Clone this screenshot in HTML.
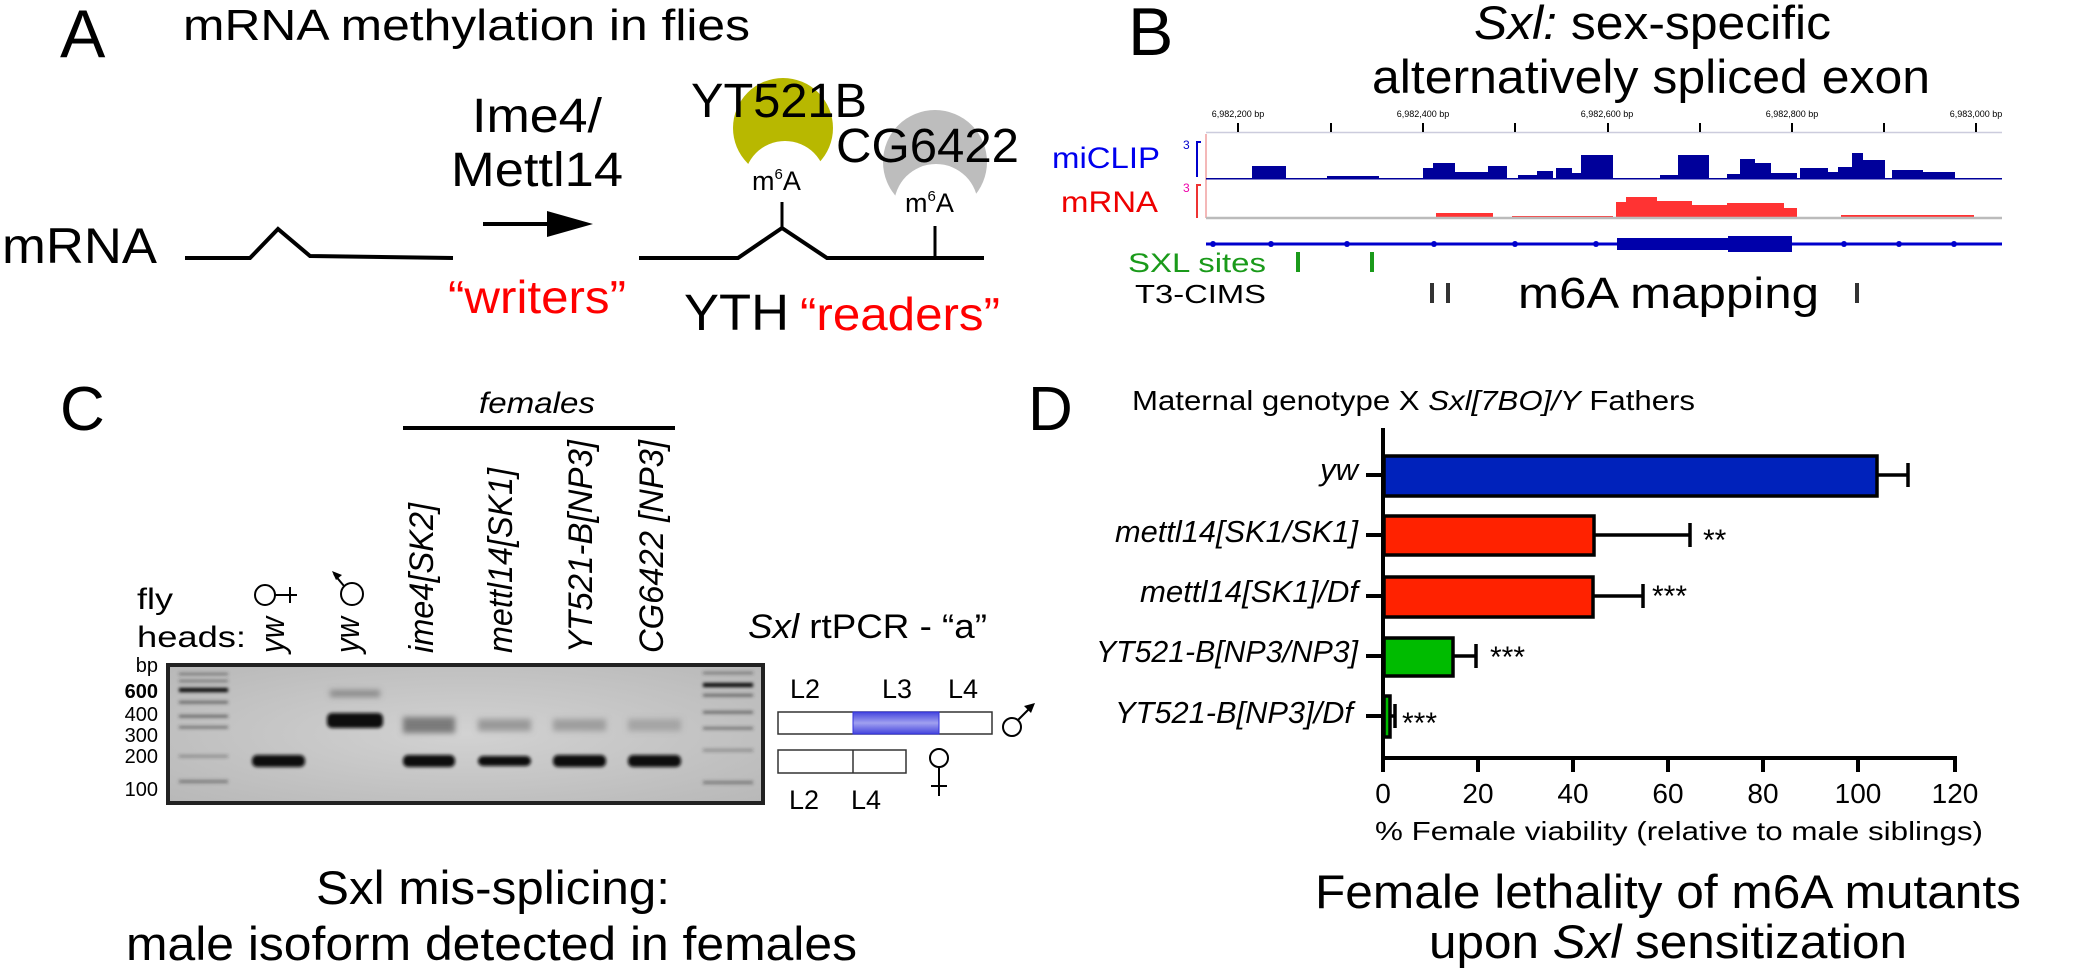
<!DOCTYPE html>
<html><head><meta charset="utf-8"><style>
html,body{margin:0;padding:0;background:#fff}
svg{display:block}
text{font-family:"Liberation Sans",Arial,sans-serif}
</style></head><body>
<svg width="2093" height="978" viewBox="0 0 2093 978" xmlns="http://www.w3.org/2000/svg">
<defs>
<filter id="bl" x="-20%" y="-50%" width="140%" height="200%"><feGaussianBlur stdDeviation="1.6"/></filter>
<filter id="bl2" x="-20%" y="-80%" width="140%" height="260%"><feGaussianBlur stdDeviation="3"/></filter>
<linearGradient id="bg" x1="0" y1="0" x2="0" y2="1"><stop offset="0" stop-color="#4444dd"/><stop offset="0.5" stop-color="#a0a0f0"/><stop offset="1" stop-color="#4444dd"/></linearGradient>
<radialGradient id="gel" cx="0.5" cy="0.5" r="0.7"><stop offset="0" stop-color="#d2d2d2"/><stop offset="1" stop-color="#b8b8b8"/></radialGradient>
</defs>

<!-- Panel A -->
<text x="60" y="57" font-size="68">A</text>
<text x="183" y="40" font-size="44" textLength="567" lengthAdjust="spacingAndGlyphs">mRNA methylation in flies</text>
<text x="2" y="263" font-size="50" textLength="155" lengthAdjust="spacingAndGlyphs">mRNA</text>
<polyline points="185,258 250,258 278,229 310,256 453,258" fill="none" stroke="#000" stroke-width="4"/>
<text x="472" y="132" font-size="48" textLength="130" lengthAdjust="spacingAndGlyphs">Ime4/</text>
<text x="451" y="186" font-size="48" textLength="172" lengthAdjust="spacingAndGlyphs">Mettl14</text>
<line x1="483" y1="224" x2="550" y2="224" stroke="#000" stroke-width="4"/>
<polygon points="547,211 593,224 547,237" fill="#000"/>
<text x="448" y="313" font-size="46" fill="#ff0000" textLength="178" lengthAdjust="spacingAndGlyphs">“writers”</text>
<circle cx="783" cy="128" r="50" fill="#b8b800"/>
<circle cx="785" cy="182" r="41" fill="#fff"/>
<circle cx="935" cy="162" r="52" fill="#bdbdbd"/>
<circle cx="936" cy="206" r="42" fill="#fff"/>
<text x="691" y="117" font-size="48" textLength="176" lengthAdjust="spacingAndGlyphs">YT521B</text>
<text x="836" y="162" font-size="48" textLength="183" lengthAdjust="spacingAndGlyphs">CG6422</text>
<text x="752" y="190" font-size="27">m<tspan font-size="15" dy="-11">6</tspan><tspan dy="11">A</tspan></text>
<text x="905" y="212" font-size="27">m<tspan font-size="15" dy="-11">6</tspan><tspan dy="11">A</tspan></text>
<polyline points="639,258 738,258 782,228 827,258 984,258" fill="none" stroke="#000" stroke-width="4"/>
<line x1="782" y1="228" x2="782" y2="202" stroke="#000" stroke-width="3"/>
<line x1="935" y1="258" x2="935" y2="226" stroke="#000" stroke-width="3"/>
<text x="684" y="330" font-size="51" textLength="105" lengthAdjust="spacingAndGlyphs">YTH</text>
<text x="800" y="330" font-size="46" fill="#ff0000" textLength="200" lengthAdjust="spacingAndGlyphs">“readers”</text>

<!-- Panel B -->
<text x="1128" y="55" font-size="68">B</text>
<text x="1474" y="39" font-size="47" textLength="357" lengthAdjust="spacingAndGlyphs"><tspan font-style="italic">Sxl:</tspan> sex-specific</text>
<text x="1372" y="93" font-size="47" textLength="558" lengthAdjust="spacingAndGlyphs">alternatively spliced exon</text>
<g font-size="9" text-anchor="middle">
<text x="1238" y="117">6,982,200 bp</text><text x="1423" y="117">6,982,400 bp</text><text x="1607" y="117">6,982,600 bp</text><text x="1792" y="117">6,982,800 bp</text><text x="1976" y="117">6,983,000 bp</text>
</g>
<line x1="1206" y1="132.5" x2="2002" y2="132.5" stroke="#ccccdd" stroke-width="1.5"/>
<g stroke="#000" stroke-width="2">
<line x1="1238" y1="123" x2="1238" y2="132"/><line x1="1331" y1="123" x2="1331" y2="132"/><line x1="1423" y1="123" x2="1423" y2="132"/><line x1="1515" y1="123" x2="1515" y2="132"/><line x1="1608" y1="123" x2="1608" y2="132"/><line x1="1700" y1="123" x2="1700" y2="132"/><line x1="1792" y1="123" x2="1792" y2="132"/><line x1="1884" y1="123" x2="1884" y2="132"/><line x1="1976" y1="123" x2="1976" y2="132"/>
</g>
<line x1="1206" y1="134" x2="1206" y2="218" stroke="#f0a0a0" stroke-width="1.5"/>
<text x="1052" y="168" font-size="30" fill="#0000ee" textLength="108" lengthAdjust="spacingAndGlyphs">miCLIP</text>
<text x="1061" y="212" font-size="30" fill="#ee0000" textLength="97" lengthAdjust="spacingAndGlyphs">mRNA</text>
<text x="1183" y="149" font-size="12" fill="#0000cc">3</text>
<path d="M1201,142 L1197,142 L1197,177" fill="none" stroke="#0000cc" stroke-width="2"/>
<text x="1183" y="192" font-size="12" fill="#ee00aa">3</text>
<path d="M1201,185 L1197,185 L1197,218" fill="none" stroke="#ee3333" stroke-width="2"/>
<path fill="#00009a" d="M1206,178 L1252,178 L1252,166 L1286,166 L1286,178 L1327,178 L1327,176 L1379,176 L1379,178 L1423,178 L1423,168 L1433,168 L1433,163 L1455,163 L1455,172 L1488,172 L1488,166 L1507,166 L1507,178 L1518,178 L1518,175 L1537,175 L1537,171 L1553,171 L1553,178 L1556,178 L1556,168 L1572,168 L1572,173 L1581,173 L1581,155 L1613,155 L1613,178 L1660,178 L1660,175 L1678,175 L1678,155 L1709,155 L1709,178 L1727,178 L1727,174 L1740,174 L1740,159 L1755,159 L1755,163 L1771,163 L1771,173 L1797,173 L1797,178 L1800,178 L1800,168 L1828,168 L1828,172 L1838,172 L1838,167 L1852,167 L1852,153 L1863,153 L1863,160 L1885,160 L1885,178 L1892,178 L1892,170 L1923,170 L1923,172 L1955,172 L1955,178 L2002,178 L2002,179.5 L1206,179.5 Z"/>
<path fill="#ff3333" d="M1206,217 L1436,217 L1436,213 L1493,213 L1493,217 L1512,217 L1512,216 L1613,216 L1613,217 L1616,217 L1616,202 L1626,202 L1626,197 L1657,197 L1657,201 L1692,201 L1692,205 L1727,205 L1727,203 L1784,203 L1784,208 L1797,208 L1797,217 L1841,217 L1841,215 L1974,215 L1974,217 Z"/>
<line x1="1206" y1="218" x2="2002" y2="218" stroke="#bbbbbb" stroke-width="2.5"/>
<line x1="1206" y1="244" x2="2002" y2="244" stroke="#0000cc" stroke-width="3"/>
<rect x="1617" y="238" width="175" height="12" fill="#0000aa"/>
<rect x="1728" y="236" width="64" height="16" fill="#0000aa"/>
<g fill="#0000cc"><circle cx="1213" cy="244" r="3"/><circle cx="1271" cy="244" r="3"/><circle cx="1347" cy="244" r="3"/><circle cx="1434" cy="244" r="3"/><circle cx="1515" cy="244" r="3"/><circle cx="1596" cy="244" r="3"/><circle cx="1844" cy="244" r="3"/><circle cx="1899" cy="244" r="3"/><circle cx="1954" cy="244" r="3"/></g>
<text x="1128" y="272" font-size="27" fill="#1a9a1a" textLength="138" lengthAdjust="spacingAndGlyphs">SXL sites</text>
<rect x="1296" y="252" width="4" height="20" fill="#1a9a1a"/>
<rect x="1370" y="252" width="4" height="20" fill="#1a9a1a"/>
<text x="1135" y="303" font-size="26" textLength="131" lengthAdjust="spacingAndGlyphs">T3-CIMS</text>
<rect x="1430" y="283" width="4" height="20" fill="#333"/>
<rect x="1446" y="283" width="4" height="20" fill="#333"/>
<rect x="1855" y="283" width="4" height="20" fill="#333"/>
<text x="1518" y="308" font-size="44" textLength="301" lengthAdjust="spacingAndGlyphs">m6A mapping</text>

<!-- Panel C -->
<text x="60" y="430" font-size="62">C</text>
<text x="479" y="413" font-size="30" font-style="italic" textLength="116" lengthAdjust="spacingAndGlyphs">females</text>
<line x1="403" y1="428" x2="675" y2="428" stroke="#000" stroke-width="4"/>
<text x="137" y="609" font-size="30" textLength="36" lengthAdjust="spacingAndGlyphs">fly</text>
<text x="137" y="647" font-size="30" textLength="109" lengthAdjust="spacingAndGlyphs">heads:</text>
<g font-size="34" font-style="italic">
<text transform="translate(284,653) rotate(-90)" textLength="36" lengthAdjust="spacingAndGlyphs">yw</text>
<text transform="translate(359,653) rotate(-90)" textLength="36" lengthAdjust="spacingAndGlyphs">yw</text>
<text transform="translate(433,653) rotate(-90)" textLength="150" lengthAdjust="spacingAndGlyphs">ime4[SK2]</text>
<text transform="translate(512,653) rotate(-90)" textLength="185" lengthAdjust="spacingAndGlyphs">mettl14[SK1]</text>
<text transform="translate(592,653) rotate(-90)" textLength="213" lengthAdjust="spacingAndGlyphs">YT521-B[NP3]</text>
<text transform="translate(663,653) rotate(-90)" textLength="213" lengthAdjust="spacingAndGlyphs">CG6422 [NP3]</text>
</g>
<!-- rotated gender symbols -->
<g fill="none" stroke="#000" stroke-width="2">
<circle cx="265" cy="595" r="10"/><line x1="275" y1="595" x2="297" y2="595"/><line x1="290" y1="587" x2="290" y2="603"/>
<circle cx="352" cy="594" r="11"/><line x1="344" y1="586" x2="334" y2="574"/>
</g>
<polygon points="332,571 342,575 336,580" fill="#000"/>
<g font-size="20" text-anchor="end">
<text x="158" y="672">bp</text><text x="158" y="698" font-weight="bold">600</text><text x="158" y="721">400</text><text x="158" y="742">300</text><text x="158" y="763">200</text><text x="158" y="796">100</text>
</g>
<rect x="168" y="665" width="595" height="138" fill="url(#gel)" stroke="#222" stroke-width="4"/>
<g filter="url(#bl)" fill="#333">
<rect x="179" y="673" width="49" height="2" opacity="0.6"/><rect x="179" y="680" width="49" height="2" opacity="0.6"/><rect x="179" y="688" width="49" height="4" fill="#000"/><rect x="179" y="701" width="49" height="2.5" opacity="0.7"/><rect x="179" y="715" width="49" height="2.5" opacity="0.7"/><rect x="179" y="726" width="49" height="2.5" opacity="0.6"/><rect x="179" y="755" width="49" height="2.5" opacity="0.4"/><rect x="179" y="780" width="49" height="3" opacity="0.5"/>
<rect x="703" y="672" width="50" height="2" opacity="0.6"/><rect x="703" y="683" width="50" height="4" fill="#000"/><rect x="703" y="694" width="50" height="2.5" opacity="0.7"/><rect x="703" y="711" width="50" height="2.5" opacity="0.7"/><rect x="703" y="727" width="50" height="2.5" opacity="0.6"/><rect x="703" y="749" width="50" height="2.5" opacity="0.4"/><rect x="703" y="781" width="50" height="3" opacity="0.5"/>
</g>
<g filter="url(#bl)" fill="#080808">
<rect x="252" y="755" width="53" height="12" rx="5"/>
<rect x="327" y="713" width="56" height="15" rx="5"/>
<rect x="403" y="755" width="52" height="12" rx="5"/>
<rect x="478" y="756" width="53" height="10" rx="5"/>
<rect x="553" y="755" width="53" height="12" rx="5"/>
<rect x="628" y="755" width="53" height="12" rx="5"/>
</g>
<g filter="url(#bl2)">
<rect x="403" y="717" width="52" height="16" fill="#7a7a7a"/>
<rect x="478" y="719" width="53" height="12" fill="#999"/>
<rect x="553" y="719" width="53" height="12" fill="#9e9e9e"/>
<rect x="628" y="719" width="53" height="12" fill="#a4a4a4"/>
<rect x="330" y="690" width="50" height="7" fill="#8a8a8a"/>
</g>
<text x="748" y="638" font-size="34" textLength="239" lengthAdjust="spacingAndGlyphs"><tspan font-style="italic">Sxl</tspan> rtPCR - “a”</text>
<g font-size="27">
<text x="790" y="698">L2</text><text x="882" y="698">L3</text><text x="948" y="698">L4</text>
<text x="789" y="809">L2</text><text x="851" y="809">L4</text>
</g>
<rect x="778" y="712" width="214" height="22" fill="#fff" stroke="#333" stroke-width="1.5"/>
<rect x="853" y="712" width="86" height="22" fill="url(#bg)" stroke="#3333dd" stroke-width="1"/>
<rect x="778" y="750" width="128" height="23" fill="#fff" stroke="#333" stroke-width="1.5"/>
<line x1="853" y1="750" x2="853" y2="773" stroke="#333" stroke-width="1.5"/>
<g fill="none" stroke="#000" stroke-width="2">
<circle cx="1012" cy="727" r="9"/><line x1="1018" y1="720" x2="1032" y2="706"/>
<circle cx="939" cy="758" r="9"/><line x1="939" y1="767" x2="939" y2="796"/><line x1="931" y1="786" x2="947" y2="786"/>
</g>
<polygon points="1035,703 1024,706 1031,713" fill="#000"/>
<text x="316" y="904" font-size="47" textLength="354" lengthAdjust="spacingAndGlyphs">Sxl mis-splicing:</text>
<text x="126" y="960" font-size="47" textLength="731" lengthAdjust="spacingAndGlyphs">male isoform detected in females</text>

<!-- Panel D -->
<text x="1028" y="430" font-size="62">D</text>
<text x="1132" y="410" font-size="28" textLength="563" lengthAdjust="spacingAndGlyphs">Maternal genotype X <tspan font-style="italic">Sxl[7BO]/Y</tspan> Fathers</text>
<g stroke="#000" stroke-width="4">
<line x1="1383" y1="428" x2="1383" y2="760"/>
<line x1="1381" y1="758" x2="1957" y2="758"/>
<line x1="1383" y1="758" x2="1383" y2="772"/><line x1="1478" y1="758" x2="1478" y2="772"/><line x1="1573" y1="758" x2="1573" y2="772"/><line x1="1668" y1="758" x2="1668" y2="772"/><line x1="1763" y1="758" x2="1763" y2="772"/><line x1="1858" y1="758" x2="1858" y2="772"/><line x1="1955" y1="758" x2="1955" y2="772"/>
<line x1="1366" y1="475" x2="1383" y2="475"/><line x1="1366" y1="535" x2="1383" y2="535"/><line x1="1366" y1="596" x2="1383" y2="596"/><line x1="1366" y1="656" x2="1383" y2="656"/><line x1="1366" y1="716" x2="1383" y2="716"/>
</g>
<g stroke="#000" stroke-width="3.5">
<rect x="1384" y="456" width="493" height="40" fill="#0022bb"/>
<rect x="1384" y="516" width="210" height="39" fill="#ff2200"/>
<rect x="1384" y="577" width="209" height="40" fill="#ff2200"/>
<rect x="1384" y="638" width="69" height="38" fill="#00bb00"/>
<rect x="1384" y="696" width="6" height="41" fill="#00bb00"/>
<line x1="1877" y1="475" x2="1908" y2="475"/><line x1="1908" y1="463" x2="1908" y2="487"/>
<line x1="1594" y1="535" x2="1690" y2="535"/><line x1="1690" y1="523" x2="1690" y2="547"/>
<line x1="1593" y1="596" x2="1643" y2="596"/><line x1="1643" y1="584" x2="1643" y2="608"/>
<line x1="1453" y1="656" x2="1476" y2="656"/><line x1="1476" y1="644" x2="1476" y2="668"/>
<line x1="1390" y1="716" x2="1395" y2="716"/><line x1="1395" y1="704" x2="1395" y2="728"/>
</g>
<g font-size="30">
<text x="1703" y="550">**</text>
<text x="1652" y="606">***</text>
<text x="1490" y="667">***</text>
<text x="1402" y="733">***</text>
</g>
<g font-size="31" font-style="italic" text-anchor="end">
<text x="1358" y="480">yw</text>
<text x="1358" y="542" textLength="243" lengthAdjust="spacingAndGlyphs">mettl14[SK1/SK1]</text>
<text x="1358" y="602" textLength="218" lengthAdjust="spacingAndGlyphs">mettl14[SK1]/Df</text>
<text x="1358" y="662" textLength="262" lengthAdjust="spacingAndGlyphs">YT521-B[NP3/NP3]</text>
<text x="1353" y="723" textLength="238" lengthAdjust="spacingAndGlyphs">YT521-B[NP3]/Df</text>
</g>
<g font-size="28" text-anchor="middle">
<text x="1383" y="803">0</text><text x="1478" y="803">20</text><text x="1573" y="803">40</text><text x="1668" y="803">60</text><text x="1763" y="803">80</text><text x="1858" y="803">100</text><text x="1955" y="803">120</text>
</g>
<text x="1375" y="840" font-size="26" textLength="608" lengthAdjust="spacingAndGlyphs">% Female viability (relative to male siblings)</text>
<text x="1315" y="908" font-size="47" textLength="706" lengthAdjust="spacingAndGlyphs">Female lethality of m6A mutants</text>
<text x="1429" y="958" font-size="47" textLength="478" lengthAdjust="spacingAndGlyphs">upon <tspan font-style="italic">Sxl</tspan> sensitization</text>
</svg>
</body></html>
